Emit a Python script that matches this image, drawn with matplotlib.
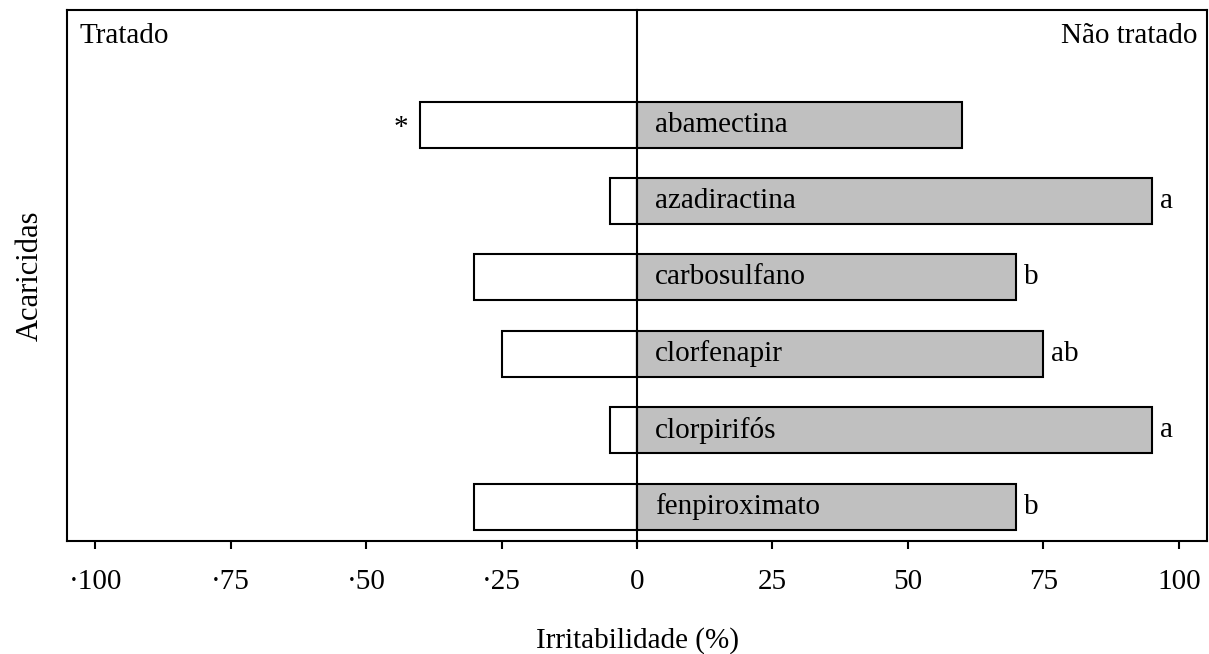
import numpy as np
import matplotlib.pyplot as plt

plt.rcParams['font.family'] = ['Liberation Serif', 'DejaVu Serif']

acaricidas = ['abamectina', 'azadiractina', 'carbosulfano', 'clorfenapir', 'clorpirifós', 'fenpiroximato']
tratado = [-40, -5, -30, -25, -5, -30]
nao_tratado = [60, 95, 70, 75, 95, 70]
letras = ['', 'a', 'b', 'ab', 'a', 'b']
xticks = [-100, -75, -50, -25, 0, 25, 50, 75, 100]
xticklabels = ['\u00b7100', '\u00b775', '\u00b750', '\u00b725', '0', '25', '50', '75', '100']

fs = 21

fig = plt.figure(figsize=(12.09, 6.54), dpi=100)
ax = fig.add_axes([67 / 1209, 1 - 541 / 654, 1140 / 1209, 531 / 654])

y = np.arange(len(acaricidas))
ax.barh(y, tratado, height=0.6, color='white', edgecolor='black', linewidth=1.5)
ax.barh(y, nao_tratado, height=0.6, color='#c0c0c0', edgecolor='black', linewidth=1.5)

for i, name in enumerate(acaricidas):
    ax.text(3.3, i, name, ha='left', va='center', fontsize=fs)
    if letras[i]:
        ax.text(nao_tratado[i] + 1.5, i, letras[i], ha='left', va='center', fontsize=fs)
# asterisco: diferenca significativa em abamectina
ax.text(tratado[0] - 2.3, 0.05, '*', ha='right', va='center', fontsize=fs)

ax.axvline(0, color='black', linewidth=1.5, ymin=-0.01, clip_on=False)

ax.set_xlim(-105.2, 105.2)
ax.set_ylim(5.45, -1.5)
ax.set_xticks(xticks)
ax.set_xticklabels(xticklabels, fontsize=fs)
ax.set_yticks([])
ax.tick_params(axis='x', direction='out', length=6, width=1.5, pad=14)
for s in ax.spines.values():
    s.set_linewidth(1.5)

ax.text(0.011, 0.975, 'Tratado', transform=ax.transAxes, ha='left', va='top', fontsize=fs)
ax.text(0.9915, 0.975, 'Não tratado', transform=ax.transAxes, ha='right', va='top', fontsize=fs)

ax.set_xlabel('Irritabilidade (%)', fontsize=fs, labelpad=23)
ax.set_ylabel('Acaricidas', fontsize=22, labelpad=16)

fig.savefig('out.png', dpi=100)
